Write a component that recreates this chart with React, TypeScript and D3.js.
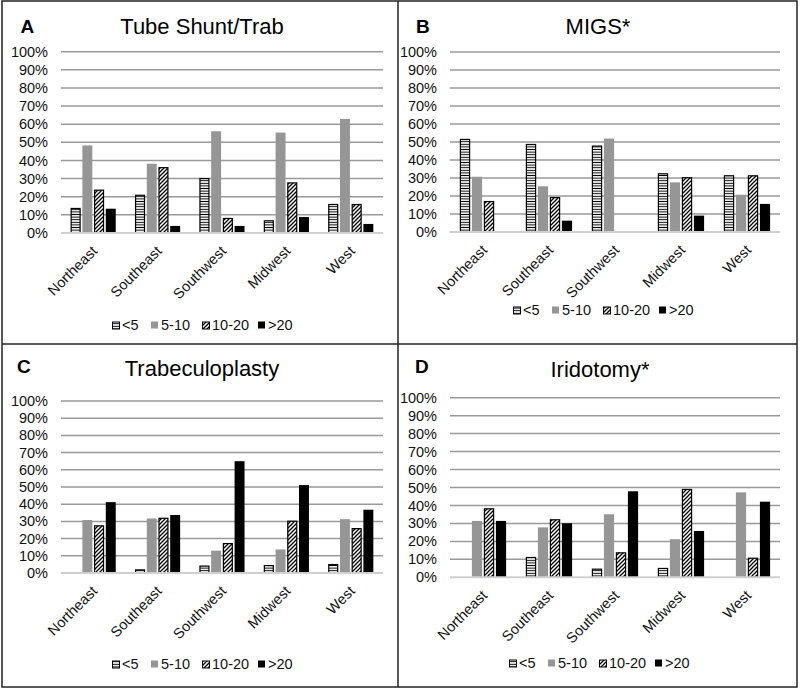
import React from "react";
import * as d3 from "d3";

const regions = ["Northeast", "Southeast", "Southwest", "Midwest", "West"];
const seriesNames = ["<5", "5-10", "10-20", ">20"];
const yTicks = [0, 10, 20, 30, 40, 50, 60, 70, 80, 90, 100];

// values per panel: rows = series (<5, 5-10, 10-20, >20), cols = regions
const tubeShunt = [
  [13.8, 21.1, 30.3, 7.0, 16.0],
  [48.3, 38.2, 56.1, 55.4, 62.9],
  [23.9, 36.3, 8.3, 27.9, 16.0],
  [13.4, 3.9, 3.9, 8.8, 5.0],
];
const migs = [
  [51.7, 48.9, 48.0, 32.6, 31.5],
  [30.7, 25.4, 51.9, 27.6, 20.7],
  [17.2, 19.4, 0, 30.4, 31.5],
  [0, 6.3, 0, 9.1, 15.6],
];
const trabeculoplasty = [
  [0, 2.1, 4.3, 4.6, 5.2],
  [30.8, 31.7, 13.0, 13.7, 31.3],
  [27.7, 32.1, 17.4, 30.4, 26.1],
  [41.2, 33.7, 65.0, 51.1, 36.8],
];
const iridotomy = [
  [0, 11.3, 4.8, 5.2, 0],
  [31.4, 27.8, 35.1, 21.2, 47.3],
  [38.4, 32.3, 13.9, 49.2, 10.9],
  [31.4, 30.1, 47.9, 25.8, 42.1],
];

const panels = [
  { letter: "A", title: "Tube Shunt/Trab", data: tubeShunt, x0: 61, x1: 383, yTop: 51.7, yBot: 233, lx: 20.5, ly: 32.5, tx: 202, ty: 34, legX: 112, legY: 325 },
  { letter: "B", title: "MIGS*", data: migs, x0: 450, x1: 780, yTop: 52, yBot: 232, lx: 416, ly: 32.5, tx: 598, ty: 34, legX: 513, legY: 310 },
  { letter: "C", title: "Trabeculoplasty", data: trabeculoplasty, x0: 61, x1: 383, yTop: 401, yBot: 573, lx: 17, ly: 373, tx: 202, ty: 376, legX: 112, legY: 664 },
  { letter: "D", title: "Iridotomy*", data: iridotomy, x0: 450, x1: 780, yTop: 397.7, yBot: 577.3, lx: 415, ly: 373, tx: 600, ty: 377, legX: 509, legY: 663 },
];

const fills = ["url(#hlines)", "#969696", "url(#diag)", "#000"];
const strokes = ["#000", "none", "#000", "none"];
const legendOffsets = [0, 39, 90, 146];
const FONT = "'Liberation Sans', Arial, sans-serif";

function Panel({ p }: { p: any }) {
  const xOuter = d3.scaleBand<string>().domain(regions).range([p.x0, p.x1]).paddingInner(0).paddingOuter(0);
  const step = xOuter.bandwidth();
  const groupW = step * 0.7;
  const xInner = d3.scaleBand<number>().domain([0, 1, 2, 3]).range([0, groupW]).paddingInner(0.15).paddingOuter(0);
  const y = d3.scaleLinear().domain([0, 100]).range([p.yBot, p.yTop]);
  return (
    <g fontFamily={FONT}>
      <text x={p.lx} y={p.ly} fontSize={19} fontWeight="bold" fill="#000">{p.letter}</text>
      <text x={p.tx} y={p.ty} fontSize={22} textAnchor="middle" fill="#000">{p.title}</text>
      {yTicks.map((t) => (
        <g key={t}>
          {t > 0 && <line x1={p.x0} x2={p.x1} y1={y(t)} y2={y(t)} stroke="#9a9a9a" strokeWidth={1.5} />}
          <text x={p.x0 - 13} y={y(t)} dy="0.35em" fontSize={14.5} textAnchor="end" fill="#111">{t}%</text>
        </g>
      ))}
      {p.data.map((row: number[], si: number) =>
        row.map((v: number, ci: number) => {
          if (v <= 0) return null;
          const cx = (xOuter(regions[ci]) as number) + step / 2;
          const bx = cx - groupW / 2 + (xInner(si) as number);
          const bw = xInner.bandwidth();
          const hasStroke = strokes[si] !== "none";
          return (
            <rect
              key={si + "-" + ci}
              x={hasStroke ? bx + 0.5 : bx}
              y={y(v) + (hasStroke ? 0.5 : 0)}
              width={hasStroke ? bw - 1 : bw}
              height={Math.max(0, p.yBot - y(v) - (hasStroke ? 0.5 : 0))}
              fill={fills[si]}
              stroke={strokes[si]}
              strokeWidth={1.2}
            />
          );
        })
      )}
      <line x1={p.x0} x2={p.x1} y1={p.yBot} y2={p.yBot} stroke="#d0d0d0" strokeWidth={2} />
      {regions.map((r) => {
        const cx = (xOuter(r) as number) + step / 2;
        return (
          <text key={r} transform={`translate(${cx + 5},${p.yBot + 19}) rotate(-45)`} fontSize={14.5} textAnchor="end" fill="#111">
            {r}
          </text>
        );
      })}
      {seriesNames.map((s, i) => {
        const lx = p.legX + legendOffsets[i];
        const hasStroke = strokes[i] !== "none";
        return (
          <g key={s}>
            <rect
              x={lx + (hasStroke ? 0.5 : 0)}
              y={p.legY - 3.5 + (hasStroke ? 0.5 : 0)}
              width={7}
              height={7}
              fill={fills[i]}
              stroke={strokes[i]}
              strokeWidth={1}
            />
            <text x={lx + 10} y={p.legY} dy="0.35em" fontSize={14.5} fill="#111">{s}</text>
          </g>
        );
      })}
    </g>
  );
}

export default function App() {
  return (
    <svg width={800} height={688} style={{ position: "absolute", left: 0, top: 0, background: "#fff" }}>
      <defs>
        <pattern id="hlines" patternUnits="userSpaceOnUse" width={4} height={2.6}>
          <rect width={4} height={2.6} fill="#fff" />
          <line x1={0} x2={4} y1={1.3} y2={1.3} stroke="#000" strokeWidth={1} />
        </pattern>
        <pattern id="diag" patternUnits="userSpaceOnUse" width={4} height={4}>
          <rect width={4} height={4} fill="#fff" />
          <path d="M-1,1 L1,-1 M0,4 L4,0 M3,5 L5,3" stroke="#000" strokeWidth={1.3} />
        </pattern>
      </defs>
      <rect x={0} y={0} width={800} height={688} fill="#fff" />
      {panels.map((p) => (
        <Panel key={p.letter} p={p} />
      ))}
      <rect x={2} y={1} width={795} height={686} fill="none" stroke="#222" strokeWidth={1.5} />
      <line x1={398} x2={398} y1={1} y2={687} stroke="#222" strokeWidth={1.5} />
      <line x1={2} x2={797} y1={344} y2={344} stroke="#222" strokeWidth={1.5} />
    </svg>
  );
}
